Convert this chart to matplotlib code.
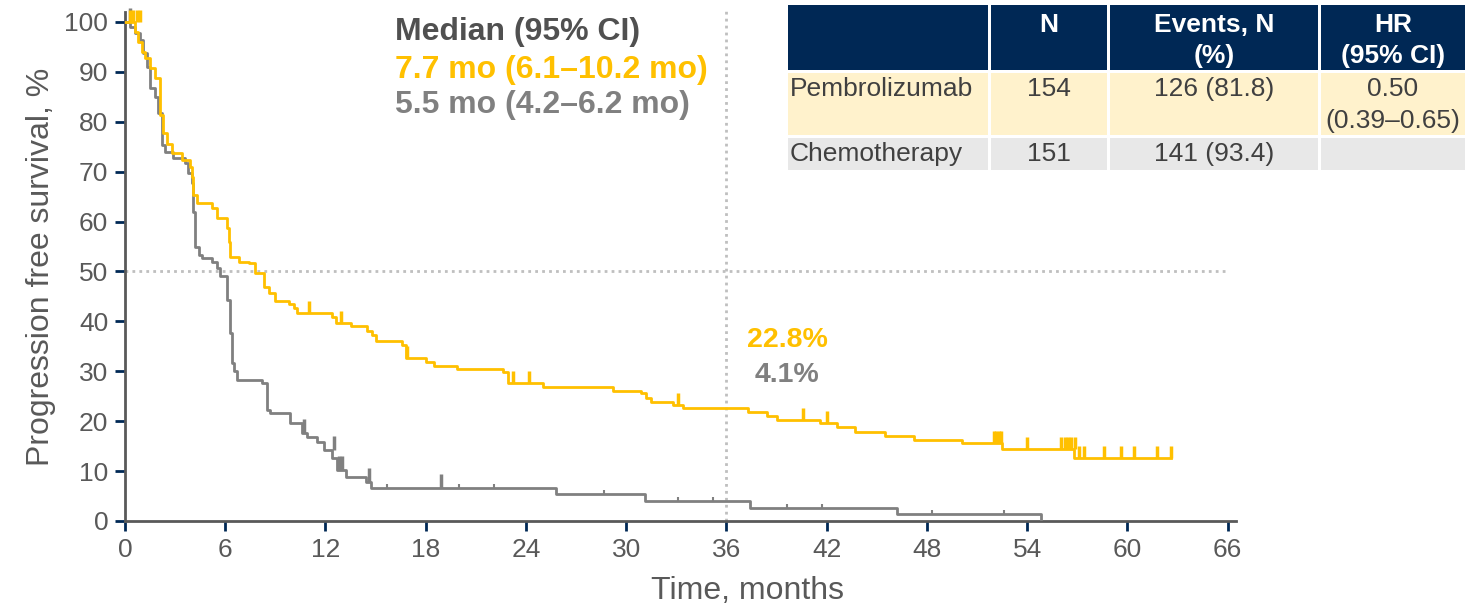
import numpy as np
import matplotlib
matplotlib.use("Agg")
import matplotlib.pyplot as plt
from matplotlib.patches import Rectangle

plt.rcParams['font.family'] = ['Liberation Sans', 'DejaVu Sans']

# Kaplan-Meier step data (months, % surviving)
pembro_t = [0, 0.6, 0.8, 1.0, 1.2, 1.5, 1.8, 2.1, 2.3, 2.5, 2.8, 3.4, 3.9, 4.0, 4.1, 4.3,
            5.2, 5.5, 6.1, 6.2, 6.3, 6.8, 7.4, 7.8, 8.3, 8.6, 9.0, 9.8, 10.1, 10.3,
            12.4, 12.6, 13.5, 14.5, 14.8, 15.0, 16.6, 16.8, 18.0, 18.5, 19.9, 22.6, 22.9,
            25.0, 29.2, 30.9, 31.2, 31.5, 32.8, 33.4, 37.3, 38.4, 39.0, 41.6, 42.6, 43.7,
            45.5, 47.2, 50.1, 52.5, 56.8, 62.6]
pembro_s = [100, 98, 96, 94, 92.8, 90.8, 88.8, 81.4, 77.8, 75.5, 73.7, 72.3, 71, 69, 65.3, 63.7,
            62.8, 60.7, 58.7, 56, 53, 52, 51.7, 49.6, 46.9, 45.7, 44.1, 43.5, 42.7, 41.7,
            40.9, 39.7, 39, 38.1, 37.3, 36.1, 35.3, 32.7, 31.9, 31.1, 30.5, 29.9, 27.7,
            26.9, 26.1, 25.6, 24.6, 23.9, 23.2, 22.7, 21.8, 21.1, 20.2, 19.6, 18.8, 17.8,
            17.0, 16.2, 15.6, 14.4, 12.6, 12.6]
pembro_cens_t = [0.3, 0.5, 0.7, 0.9, 11.0, 12.9, 16.9, 23.2, 24.2, 33.1, 40.6, 42.0,
                 52.0, 52.15, 52.3, 52.45, 54.0, 56.0, 56.25, 56.45, 56.65, 56.85,
                 57.1, 57.4, 58.6, 59.6, 60.4, 61.8, 62.6]
pembro_cens_s = [100, 100, 100, 100, 41.7, 39.7, 32.7, 27.7, 27.7, 23.2, 20.2, 19.6,
                 15.6, 15.6, 15.6, 15.6, 14.4, 14.4, 14.4, 14.4, 14.4, 14.4,
                 12.6, 12.6, 12.6, 12.6, 12.6, 12.6, 12.6]

chemo_t = [0, 0.3, 0.6, 0.9, 1.1, 1.3, 1.5, 1.8, 2.0, 2.2, 2.4, 2.9, 3.6, 3.8, 4.0, 4.1, 4.2,
           4.4, 4.6, 5.2, 5.5, 5.7, 6.1, 6.3, 6.4, 6.5, 6.7, 8.2, 8.5, 8.7, 9.9, 10.6,
           10.9, 11.5, 11.9, 12.4, 12.7, 13.2, 14.4, 14.7, 25.8, 31.1, 37.4, 46.2, 54.8]
chemo_s = [100, 99, 97.8, 96.4, 93.8, 91, 86.7, 85, 81.7, 75.3, 74, 72.7, 71.7, 69.7, 67.7, 62, 55,
           53.3, 52.7, 52, 50.7, 49, 44.3, 37.7, 31.7, 30, 28.3, 27.7, 22.2, 21.6, 19.6, 17.6,
           16.8, 15.8, 14.2, 12.6, 10.2, 8.8, 7.8, 6.6, 5.4, 4.0, 2.6, 1.4, 0]
chemo_cens_t = [0.3, 10.7, 12.5, 12.8, 13.0, 14.6, 18.9]
chemo_cens_s = [100, 17.6, 14.2, 10.2, 10.2, 7.8, 6.6]
chemo_small_t = [15.7, 20.0, 22.1, 28.7, 33.1, 35.2, 39.6, 41.7, 48.3, 52.6]
chemo_small_s = [6.6, 6.6, 6.6, 5.4, 4.0, 4.0, 2.6, 2.6, 1.4, 1.4]

xticks = list(range(0, 67, 6))
yticks = list(range(0, 101, 10))

medians = ["Median (95% CI)", "7.7 mo (6.1\u201310.2 mo)", "5.5 mo (4.2\u20136.2 mo)"]
landmark = 36
landmark_vals = ["22.8%", "4.1%"]

tab_header = ["", "N", "Events, N\n(%)", "HR\n(95% CI)"]
tab_rows = [["Pembrolizumab", "154", "126 (81.8)", "0.50\n(0.39\u20130.65)"],
            ["Chemotherapy", "151", "141 (93.4)", ""]]

YELLOW = "#FFC000"
GRAY = "#808080"
NAVY = "#002855"
DARK = "#595959"

W, H = 1465, 608
fig = plt.figure(figsize=(W / 100, H / 100), dpi=100)
ax = fig.add_axes([125 / W, 87 / H, 1111 / W, 509 / H])
ax.set_xlim(0, 66.5)
ax.set_ylim(0, 102)

# reference lines
ax.plot([0, 66], [50, 50], color="#BFBFBF", lw=2, ls=(0, (1, 1.5)), zorder=1)
ax.plot([landmark, landmark], [0, 102.8], color="#BFBFBF", lw=2, ls=(0, (1, 1.5)),
        zorder=1, clip_on=False)

ax.step(chemo_t, chemo_s, where="post", color=GRAY, lw=2, zorder=3)
ax.step(pembro_t, pembro_s, where="post", color=YELLOW, lw=2, zorder=4)
ax.plot(chemo_cens_t, chemo_cens_s, ls="none", marker=2, ms=10, mew=2.5, color=GRAY,
        zorder=3, clip_on=False)
ax.plot(chemo_small_t, chemo_small_s, ls="none", marker=2, ms=3, mew=1.5, color=GRAY, zorder=3)
ax.plot(pembro_cens_t, pembro_cens_s, ls="none", marker=2, ms=9, mew=2.5, color=YELLOW,
        zorder=4, clip_on=False)

for s in ["top", "right"]:
    ax.spines[s].set_visible(False)
for s in ["left", "bottom"]:
    ax.spines[s].set_color(DARK)
    ax.spines[s].set_linewidth(2)
ax.set_xticks(xticks)
ax.set_yticks(yticks)
ax.tick_params(length=7, width=2, color=NAVY, labelcolor=DARK, labelsize=19, pad=5)
ax.set_xlabel("Time, months", fontsize=23, color=DARK)
ax.xaxis.set_label_coords(0.56, -0.108)
ax.set_ylabel("Progression free survival, %", fontsize=23, color=DARK, labelpad=6)

# median text
fig.text(395 / W, 1 - 32 / H, medians[0], fontsize=23, fontweight="bold", color="#505050", va="center")
fig.text(395 / W, 1 - 70 / H, medians[1], fontsize=23, fontweight="bold", color=YELLOW, va="center")
fig.text(395 / W, 1 - 105 / H, medians[2], fontsize=23, fontweight="bold", color=GRAY, va="center")

fig.text(787 / W, 1 - 340 / H, landmark_vals[0], fontsize=20.5, fontweight="bold", color=YELLOW,
         ha="center", va="center")
fig.text(787 / W, 1 - 375 / H, landmark_vals[1], fontsize=20.5, fontweight="bold", color=GRAY,
         ha="center", va="center")

# table drawn in pixel space
tab = fig.add_axes([0, 0, 1, 1])
tab.set_xlim(0, W)
tab.set_ylim(H, 0)
tab.axis("off")
cols = [(788, 988), (991, 1107), (1110, 1318), (1321, 1465)]
rows = [(5, 70), (73, 135), (138, 170)]
fills = [NAVY, "#FFF2CC", "#E8E8E8"]
for r, (y0, y1) in enumerate(rows):
    for c, (x0, x1) in enumerate(cols):
        tab.add_patch(Rectangle((x0, y0), x1 - x0, y1 - y0, color=fills[r], lw=0))
for c, (x0, x1) in enumerate(cols):
    tab.text((x0 + x1) / 2, 13, tab_header[c], ha="center", va="top", fontsize=19,
             fontweight="bold", color="white", linespacing=1.35)
for r, row in enumerate(tab_rows):
    y0 = rows[r + 1][0] + 4
    for c, txt in enumerate(row):
        x0, x1 = cols[c]
        if c == 0:
            tab.text(x0 + 2, y0, txt, ha="left", va="top", fontsize=19, color="#404040")
        else:
            tab.text((x0 + x1) / 2, y0, txt, ha="center", va="top", fontsize=19,
                     color="#404040", linespacing=1.4)

fig.savefig("out.png", dpi=100)
